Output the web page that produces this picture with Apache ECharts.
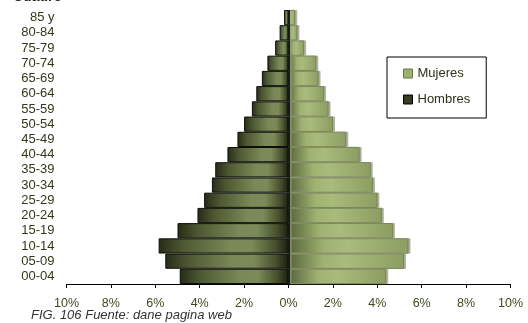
<!DOCTYPE html>
<html>
<head>
<meta charset="utf-8">
<style>
  html, body { margin: 0; padding: 0; background: #ffffff; }
  #chart { width: 528px; height: 323px; }
</style>
<script src="https://cdn.jsdelivr.net/npm/echarts@6/dist/echarts.min.js"></script>
</head>
<body>
<div id="chart"></div>
<script>
// Age groups, youngest at the bottom
const ageGroups = ['00-04', '05-09', '10-14', '15-19', '20-24', '25-29', '30-34', '35-39',
  '40-44', '45-49', '50-54', '55-59', '60-64', '65-69', '70-74', '75-79', '80-84', '85 y'];

// Share of total population (%) per age group
const hombres = [4.9, 5.55, 5.85, 5.0, 4.1, 3.8, 3.45, 3.3, 2.75, 2.3, 2.0, 1.65, 1.45, 1.2, 0.95, 0.6, 0.4, 0.2];
const mujeres = [4.4, 5.2, 5.4, 4.7, 4.2, 4.0, 3.8, 3.7, 3.2, 2.6, 2.0, 1.8, 1.6, 1.35, 1.25, 0.7, 0.4, 0.3];

// Percentage axis
const axisMin = -10;
const axisMax = 10;
const axisStep = 2;

const titleText = 'Cuadro';
const captionText = 'FIG. 106 Fuente: dane pagina web';

const FONT = '"Liberation Sans", Arial, sans-serif';

const chart = echarts.init(document.getElementById('chart'), null, { renderer: 'canvas' });

const menGradient = new echarts.graphic.LinearGradient(0, 0, 1, 0, [
  { offset: 0, color: '#262b17' },
  { offset: 0.18, color: '#4c5731' },
  { offset: 0.55, color: '#7a8957' },
  { offset: 0.72, color: '#7b8a58' },
  { offset: 0.9, color: '#454f2c' },
  { offset: 1, color: '#1a1e10' }
]);

const womenGradient = new echarts.graphic.LinearGradient(0, 0, 1, 0, [
  { offset: 0, color: '#55643a' },
  { offset: 0.3, color: '#9fb271' },
  { offset: 0.5, color: '#a9bc7b' },
  { offset: 1, color: '#8d9d63' }
]);

chart.setOption({
  animation: false,
  backgroundColor: '#ffffff',
  textStyle: { fontFamily: FONT },
  grid: { left: 66.5, right: 17.5, top: 10, bottom: 39, containLabel: false },
  legend: {
    orient: 'vertical',
    left: 387,
    top: 57,
    padding: [10, 16, 12, 16],
    itemGap: 13,
    itemWidth: 9,
    itemHeight: 9,
    icon: 'rect',
    borderColor: '#000000',
    borderWidth: 1,
    backgroundColor: '#ffffff',
    textStyle: { fontSize: 13, color: '#2a3318', fontFamily: FONT },
    data: [
      { name: 'Mujeres', itemStyle: { color: '#9cb06d', borderColor: '#66764a', borderWidth: 1 } },
      { name: 'Hombres', itemStyle: { color: '#363d22', borderColor: '#000000', borderWidth: 1 } }
    ]
  },
  xAxis: {
    type: 'value',
    min: axisMin,
    max: axisMax,
    interval: axisStep,
    axisLine: { show: true, lineStyle: { color: '#000000', width: 1 } },
    axisTick: { show: true, length: 4, lineStyle: { color: '#000000' } },
    splitLine: { show: false },
    axisLabel: {
      margin: 13,
      fontSize: 12.5,
      color: '#3a4a1c',
      fontFamily: FONT,
      formatter: v => Math.abs(v) + '%'
    }
  },
  yAxis: {
    type: 'category',
    data: ageGroups,
    axisLine: { show: false, onZero: false },
    axisTick: { show: false },
    axisLabel: { interval: 0, margin: 12, fontSize: 13, color: '#2f3a1a', fontFamily: FONT }
  },
  series: [
    {
      name: 'Mujeres',
      type: 'bar',
      barGap: '-100%',
      barCategoryGap: '0%',
      data: mujeres,
      itemStyle: {
        color: womenGradient,
        borderColor: '#6f7e4a',
        borderWidth: 0.8,
        shadowColor: '#a9ae9c',
        shadowOffsetX: 2,
        shadowOffsetY: 0,
        shadowBlur: 0
      },
      z: 2
    },
    {
      name: 'Hombres',
      type: 'bar',
      barGap: '-100%',
      barCategoryGap: '0%',
      data: hombres.map(v => -v),
      itemStyle: {
        color: menGradient,
        borderColor: '#0d0f08',
        borderWidth: 1
      },
      markLine: {
        silent: true,
        symbol: 'none',
        label: { show: false },
        lineStyle: { color: '#000000', width: 1.5, type: 'solid' },
        data: [{ xAxis: 0 }]
      },
      z: 3
    }
  ],
  graphic: [
    {
      type: 'text',
      left: 13,
      top: -10,
      style: { text: titleText, font: 'bold 14px ' + FONT, fill: '#1a1a1a' }
    },
    {
      type: 'text',
      left: 31,
      top: 309,
      style: { text: captionText, font: 'italic 13px ' + FONT, fill: '#333333' }
    }
  ]
});
</script>
</body>
</html>
